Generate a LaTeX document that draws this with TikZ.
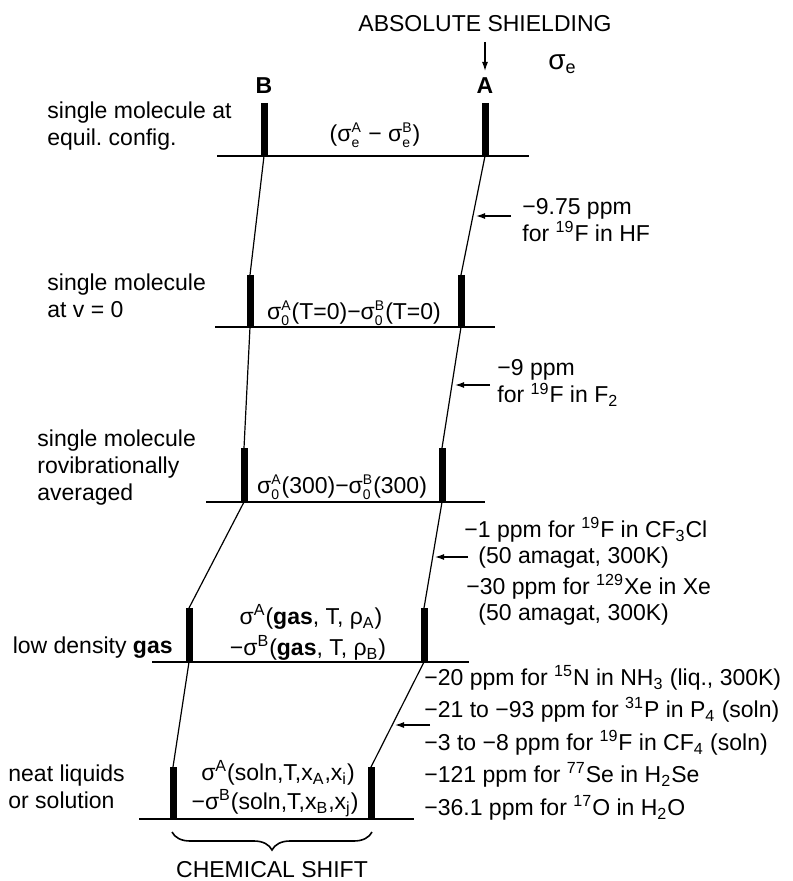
\documentclass[tikz,border=0pt]{standalone}
\usepackage{fontspec}
\setmainfont{Liberation Sans}
\usetikzlibrary{arrows.meta,decorations.pathreplacing}
\newcommand{\supsb}[2]{\(\mbox{}^{\mbox{\scriptsize #1}}_{\mbox{\scriptsize #2}}\)}
\frenchspacing
\begin{document}
\begin{tikzpicture}[x=0.5pt,y=-0.5pt]
	 \tikzstyle{lvl}=[draw,line width=0.8pt,black]
	 \tikzstyle{bar}=[draw,line width=3.5pt,black]
	 \tikzstyle{edge}=[draw,line width=0.6pt,black]
	 \tikzstyle{ptr}=[draw,line width=0.6pt,black,-{Latex[length=4.5pt,width=3pt]}]
	 \tikzstyle{txt}=[inner sep=0pt,anchor=west,align=left,font=\fontsize{11.5}{13.5}\selectfont]
	 \tikzstyle{mid}=[txt,anchor=center,align=center]
	 \tikzstyle{lab}=[mid,font=\fontsize{11.5}{13.5}\selectfont\bfseries]
	 \useasboundingbox (0,0) rectangle (792,881);
	 % header
	 \node[mid] (abs) at (485,24) {ABSOLUTE SHIELDING};
	 \coordinate (absT) at (485,42);
	 \coordinate (absA) at (485,71);
	 \draw[ptr] (absT) -- (absA);
	 \node[txt,font=\fontsize{14}{16}\selectfont] (sige) at (548,64) {σ\textsubscript{\small e}};
	 \node[lab] (labB) at (264,86) {B};
	 \node[lab] (labA) at (485,86) {A};
	 % level lines
	 \coordinate (l1w) at (217,156); \coordinate (l1e) at (529,156);
	 \coordinate (l2w) at (215,327); \coordinate (l2e) at (495,327);
	 \coordinate (l3w) at (206,502); \coordinate (l3e) at (485,502);
	 \coordinate (l4w) at (152,662); \coordinate (l4e) at (469,662);
	 \coordinate (l5w) at (139,819); \coordinate (l5e) at (414,819);
	 \draw[lvl] (l1w) -- (l1e);
	 \draw[lvl] (l2w) -- (l2e);
	 \draw[lvl] (l3w) -- (l3e);
	 \draw[lvl] (l4w) -- (l4e);
	 \draw[lvl] (l5w) -- (l5e);
	 % bars B and A
	 \coordinate (b1) at (264,156); \coordinate (b1t) at (264,103);
	 \coordinate (a1) at (485,156); \coordinate (a1t) at (485,103);
	 \coordinate (b2) at (250,327); \coordinate (b2t) at (250,275);
	 \coordinate (a2) at (461,327); \coordinate (a2t) at (461,275);
	 \coordinate (b3) at (244,502); \coordinate (b3t) at (244,448);
	 \coordinate (a3) at (442,502); \coordinate (a3t) at (442,448);
	 \coordinate (b4) at (189,662); \coordinate (b4t) at (189,608);
	 \coordinate (a4) at (424,662); \coordinate (a4t) at (424,608);
	 \coordinate (b5) at (173,819); \coordinate (b5t) at (173,767);
	 \coordinate (a5) at (371,819); \coordinate (a5t) at (371,767);
	 \draw[bar] (b1t) -- (b1);
	 \draw[bar] (a1t) -- (a1);
	 \draw[bar] (b2t) -- (b2);
	 \draw[bar] (a2t) -- (a2);
	 \draw[bar] (b3t) -- (b3);
	 \draw[bar] (a3t) -- (a3);
	 \draw[bar] (b4t) -- (b4);
	 \draw[bar] (a4t) -- (a4);
	 \draw[bar] (b5t) -- (b5);
	 \draw[bar] (a5t) -- (a5);
	 \draw[edge] (b1) -- (b2t);
	 \draw[edge] (a1) -- (a2t);
	 \draw[edge] (b2) -- (b3t);
	 \draw[edge] (a2) -- (a3t);
	 \draw[edge] (b3) -- (b4t);
	 \draw[edge] (a3) -- (a4t);
	 \draw[edge] (b4) -- (b5t);
	 \draw[edge] (a4) -- (a5t);
	 % level names
	 \node[txt] (d1) at (47,126) {single molecule at\\equil. config.};
	 \node[txt] (d2) at (47,296) {single molecule\\at v = 0};
	 \node[txt] (d3) at (37,468) {single molecule\\rovibrationally\\averaged};
	 \node[txt,anchor=east] (d4) at (173,648) {low density \textbf{gas}};
	 \node[txt] (d5) at (8,787) {neat liquids\\or solution};
	 % shieldings
	 \node[mid] (s1) at (375,135) {(σ\supsb{A}{e} − σ\supsb{B}{e})};
	 \node[mid] (s2) at (354,313) {σ\supsb{A}{0}(T=0)−σ\supsb{B}{0}(T=0)};
	 \node[mid] (s3) at (342,487) {σ\supsb{A}{0}(300)−σ\supsb{B}{0}(300)};
	 \node[mid] (s4a) at (311,617) {σ\textsuperscript{A}(\textbf{gas}, T, ρ\textsubscript{A})};
	 \node[mid] (s4b) at (308,648) {−σ\textsuperscript{B}(\textbf{gas}, T, ρ\textsubscript{B})};
	 \node[mid] (s5a) at (278,773) {σ\textsuperscript{A}(soln,T,x\textsubscript{A},x\textsubscript{i})};
	 \node[mid] (s5b) at (275,803) {−σ\textsuperscript{B}(soln,T,x\textsubscript{B},x\textsubscript{j})};
	 % examples
	 \coordinate (p1) at (476,216); \coordinate (p1s) at (511,216);
	 \coordinate (p2) at (455,385); \coordinate (p2s) at (490,385);
	 \coordinate (p3) at (435,557); \coordinate (p3s) at (468,557);
	 \coordinate (p4) at (395,725); \coordinate (p4s) at (430,725);
	 \draw[ptr] (p1s) -- (p1);
	 \draw[ptr] (p2s) -- (p2);
	 \draw[ptr] (p3s) -- (p3);
	 \draw[ptr] (p4s) -- (p4);
	 \node[txt] (n1) at (522,220) {−9.75 ppm\\for \textsuperscript{19}F in HF};
	 \node[txt] (n2) at (497,383) {−9 ppm\\for \textsuperscript{19}F in F\textsubscript{2}};
	 \node[txt] (n3a) at (464,530) {−1 ppm for \textsuperscript{19}F in CF\textsubscript{3}Cl};
	 \node[txt] (n3b) at (478,558) {(50 amagat, 300K)};
	 \node[txt] (n3c) at (466,587) {−30 ppm for \textsuperscript{129}Xe in Xe};
	 \node[txt] (n3d) at (478,615) {(50 amagat, 300K)};
	 \node[txt] (n4a) at (424,678) {−20 ppm for \textsuperscript{15}N in NH\textsubscript{3} (liq., 300K)};
	 \node[txt] (n4b) at (424,710) {−21 to −93 ppm for \textsuperscript{31}P in P\textsubscript{4} (soln)};
	 \node[txt] (n4c) at (424,743) {−3 to −8 ppm for \textsuperscript{19}F in CF\textsubscript{4} (soln)};
	 \node[txt] (n4d) at (424,775) {−121 ppm for \textsuperscript{77}Se in H\textsubscript{2}Se};
	 \node[txt] (n4e) at (424,808) {−36.1 ppm for \textsuperscript{17}O in H\textsubscript{2}O};
	 % chemical shift
	 \coordinate (br0) at (172,832); \coordinate (br1) at (372,832);
	 \draw[line width=0.8pt,decorate,decoration={brace,mirror,amplitude=9pt}] (br0) -- (br1);
	 \node[mid] (cs) at (272,870) {CHEMICAL SHIFT};
 \end{tikzpicture}
\end{document}
